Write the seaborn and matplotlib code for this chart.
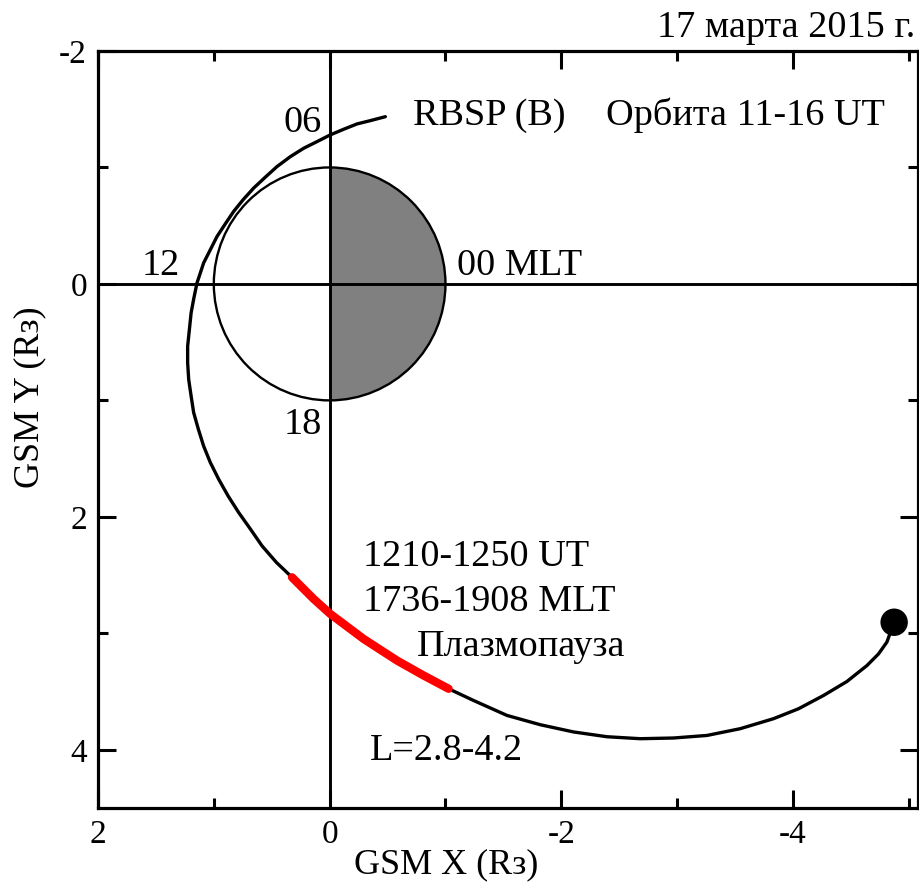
import numpy as np
import pandas as pd
import matplotlib
matplotlib.use("Agg")
import matplotlib.pyplot as plt
from matplotlib.patches import Circle, Wedge
import seaborn as sns

# RBSP (B) orbit, 11-16 UT, GSM coordinates (Earth radii)
orbit_x = [-4.874, -4.811, -4.739, -4.639, -4.466, -4.264, -4.048, -3.833, -3.545,
           -3.258, -2.969, -2.682, -2.394, -2.106, -1.819, -1.531, -1.243, -1.027,
           -0.811, -0.582, -0.293, -0.006, 0.138, 0.325, 0.460, 0.584, 0.684,
           0.786, 0.877, 0.958, 1.030, 1.088, 1.133, 1.174, 1.196, 1.217, 1.226,
           1.226, 1.211, 1.196, 1.172, 1.145, 1.088, 1.030, 0.972, 0.900, 0.829,
           0.748, 0.656, 0.555, 0.454, 0.339, 0.224, 0.109, -0.006, -0.121,
           -0.237, -0.351, -0.481]
orbit_y = [2.905, 3.076, 3.177, 3.277, 3.414, 3.534, 3.648, 3.733, 3.819,
           3.877, 3.899, 3.905, 3.888, 3.847, 3.785, 3.705, 3.577, 3.476,
           3.362, 3.234, 3.048, 2.834, 2.705, 2.519, 2.391, 2.249, 2.105,
           1.962, 1.820, 1.677, 1.534, 1.392, 1.249, 1.105, 0.963, 0.820, 0.677,
           0.535, 0.392, 0.248, 0.120, -0.009, -0.180, -0.294, -0.408, -0.517, -0.622,
           -0.722, -0.823, -0.917, -1.008, -1.093, -1.165, -1.222, -1.280, -1.328,
           -1.374, -1.402, -1.436]

# plasmapause crossing 1210-1250 UT (red part of the orbit)
pp_x = [-1.027, -0.811, -0.582, -0.293, -0.006, 0.138, 0.325]
pp_y = [3.476, 3.362, 3.234, 3.048, 2.834, 2.705, 2.519]

# start point of the orbit
start_x = [-4.874]
start_y = [2.905]

earth_radius = 1.0

x_ticks = [2, 0, -2, -4]
y_ticks = [-2, 0, 2, 4]

sns.set_theme(style="ticks")
plt.rcParams['font.family'] = ['Liberation Serif', 'DejaVu Serif']
plt.rcParams['text.color'] = 'black'

fig = plt.figure(figsize=(9.2, 8.9), dpi=100)
ax = fig.add_axes([98 / 920, 1 - 808 / 890, 820 / 920, 757 / 890])

# Earth: day side white, night side gray
ax.add_patch(Wedge((0, 0), earth_radius, 90, 270, facecolor="#808080",
                   edgecolor="none", zorder=1))
ax.add_patch(Circle((0, 0), earth_radius, facecolor="none", edgecolor="black",
                    linewidth=1.7, zorder=2))

ax.axhline(0, color="black", linewidth=2.1, zorder=3)
ax.axvline(0, color="black", linewidth=2.1, zorder=3)

orbit = pd.DataFrame({"x": orbit_x, "y": orbit_y})
sns.lineplot(data=orbit, x="x", y="y", sort=False, estimator=None,
             color="black", linewidth=2.4, ax=ax, zorder=4,
             solid_joinstyle="round", solid_capstyle="round")
pp = pd.DataFrame({"x": pp_x, "y": pp_y})
sns.lineplot(data=pp, x="x", y="y", sort=False, estimator=None,
             color="#ff0000", linewidth=6, ax=ax, zorder=5,
             solid_capstyle="round", solid_joinstyle="round")
sns.scatterplot(x=start_x, y=start_y, color="black", s=390, ax=ax,
                edgecolor="none", zorder=6)

ax.set_xlim(2, -5.08)
ax.set_ylim(4.5, -2)
ax.set_xticks(x_ticks)
ax.set_yticks(y_ticks)
ax.set_xticks([1, -1, -3, -5], minor=True)
ax.set_yticks([-1, 1, 3], minor=True)
ax.set_xticklabels([str(v) for v in x_ticks])
ax.set_yticklabels([str(v) for v in y_ticks])
ax.tick_params(which="both", direction="in", top=True, right=True,
               width=2.2, labelsize=24, color="black", labelcolor="black")
ax.tick_params(which="major", length=13, pad=8)
ax.tick_params(which="minor", length=7.5)
for s in ax.spines.values():
    s.set_linewidth(2.3)
    s.set_color("black")
ax.set_xlabel("")
ax.set_ylabel("")

fs = 27.5
ax.text(0.072, -1.305, "06", ha="right", va="baseline", fontsize=fs)
ax.text(1.289, -0.08, "12", ha="right", va="baseline", fontsize=fs)
ax.text(0.063, 1.291, "18", ha="right", va="baseline", fontsize=fs)
ax.text(-1.102, -0.08, "00 MLT", ha="left", va="baseline", fontsize=fs)
ax.text(-0.722, -1.364, "RBSP (B)", ha="left", va="baseline", fontsize=fs)
ax.text(-2.39, -1.364, "Орбита 11-16 UT", ha="left", va="baseline", fontsize=fs)
ax.text(-0.29, 2.42, "1210-1250 UT", ha="left", va="baseline", fontsize=fs)
ax.text(-0.29, 2.81, "1736-1908 MLT", ha="left", va="baseline", fontsize=fs)
ax.text(-0.757, 3.194, "Плазмопауза", ha="left", va="baseline", fontsize=fs)
ax.text(-0.351, 4.09, "L=2.8-4.2", ha="left", va="baseline", fontsize=fs)

fig.text(915 / 920, 1 - 37 / 890, "17 марта 2015 г.", ha="right",
         va="baseline", fontsize=27.5)
fig.text(446.5 / 920, 1 - 865 / 890, "GSM X (Rз)", ha="center", va="center",
         fontsize=26)
fig.text(30 / 920, 1 - 397.5 / 890, "GSM Y (Rз)", ha="center", va="center",
         rotation=90, fontsize=26)

fig.savefig("out.png", dpi=100, facecolor="white")
